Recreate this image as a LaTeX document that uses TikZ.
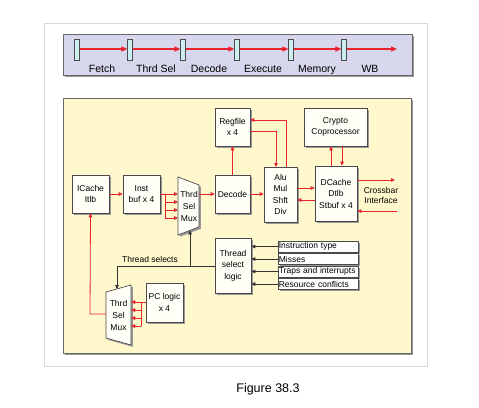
\documentclass[tikz,border=0pt]{standalone}
\usepackage{fontspec}
\setmainfont{Liberation Sans}
\usetikzlibrary{arrows.meta}
\definecolor{arred}{HTML}{E8232B}
\definecolor{pipefill}{HTML}{D6D6EC}
\definecolor{latchfill}{HTML}{CDEEF0}
\definecolor{panelfill}{HTML}{FFF8CC}
\definecolor{edge}{HTML}{4A4A4A}
\tikzset{
  shadowed/.style={preaction={fill=gray!80, transform canvas={shift={(1.8pt,-1.8pt)}}}},
  blk/.style={draw=edge, fill=white!97!yellow, line width=0.7pt, shadowed, align=center,
    inner sep=0pt, font=\fontsize{8.5}{11.5}\selectfont},
  inbox/.style={draw=edge, fill=white, line width=0.7pt, shadowed, anchor=west, align=left,
    minimum width=80pt, minimum height=11pt, inner xsep=0.5pt, inner ysep=1pt, text width=79pt,
    font=\fontsize{8.5}{10}\selectfont},
  mux/.style={draw=edge, fill=white!97!yellow, line width=0.7pt, shadowed},
  rarr/.style={draw=arred, line width=0.8pt, -{Triangle[length=4pt,width=3.6pt]}},
  rline/.style={draw=arred, line width=0.8pt},
  karr/.style={draw=black!80, line width=0.8pt, -{Triangle[length=4pt,width=3.6pt]}},
  kline/.style={draw=black!80, line width=0.8pt},
  parr/.style={draw=arred, line width=1.4pt, -{Triangle[length=6pt,width=5pt]}},
  latch/.style={draw=edge, fill=latchfill, line width=0.7pt, minimum width=4.5pt, minimum height=21pt, inner sep=0pt},
  plabel/.style={font=\fontsize{10.5}{12}\selectfont, anchor=base},
  lbl/.style={font=\fontsize{8.5}{10}\selectfont, align=center}
}
\begin{document}
\begin{tikzpicture}[x=1pt,y=-1pt]
\useasboundingbox (0,0) rectangle (479,407);
\fill[white] (0,0) rectangle (479,407);
% outer frame
\draw[gray!30, line width=0.8pt] (44,23) rectangle (427,366);
% pipeline panel
\draw[draw=black!60, fill=pipefill, line width=0.8pt, shadowed] (63,34) rectangle (412,75);
\foreach \i/\x in {1/77,2/130,3/183,4/237,5/291,6/344}{
  \node[latch] (L\i) at (\x,49.5) {};
}
\foreach \a/\b in {1/2,2/3,3/4,4/5,5/6}{
  \draw[parr] (L\a.east |- 0,49) -- (L\b.west |- 0,49);
}
\coordinate (pend) at (397,49);
\draw[parr] (L6.east |- 0,49) -- (pend);
\node[plabel] (s1) at (102,72) {Fetch};
\node[plabel] (s2) at (156,72) {Thrd Sel};
\node[plabel] (s3) at (209,72) {Decode};
\node[plabel] (s4) at (263,72) {Execute};
\node[plabel] (s5) at (317,72) {Memory};
\node[plabel] (s6) at (370,72) {WB};
% main panel
\draw[draw=black!60, fill=panelfill, line width=0.8pt, shadowed] (63,98) rectangle (411,353);
% blocks
\node[blk, minimum width=37pt, minimum height=38pt] (icache) at (90.5,194) {ICache\\Itlb};
\node[blk, minimum width=37pt, minimum height=38pt] (ibuf) at (141.5,194) {Inst\\buf x 4};
\node[blk, minimum width=35pt, minimum height=38pt] (decode) at (232.5,194) {Decode};
\node[blk, minimum width=35pt, minimum height=38pt] (regfile) at (232.5,127) {Regfile\\x 4};
\node[blk, minimum width=33pt, minimum height=55pt] (alu) at (280.5,194.5) {Alu\\Mul\\Shft\\Div};
\node[blk, minimum width=42pt, minimum height=55pt] (dcache) at (336,193.5) {DCache\\Dtlb\\Stbuf x 4};
\node[blk, minimum width=63pt, minimum height=38pt] (crypto) at (335.5,127) {Crypto\\Coprocessor};
\node[blk, minimum width=36pt, minimum height=55pt] (tsl) at (233,265.5) {Thread\\select\\logic};
\node[blk, minimum width=37pt, minimum height=39pt] (pcl) at (164.5,302.5) {PC logic\\x 4};
\node[inbox] (in1) at (278,246.5) {Instruction type};
\node[inbox] (in2) at (278,259) {Misses};
\node[inbox] (in3) at (278,271.5) {Traps and interrupts};
\node[inbox] (in4) at (278,284) {Resource conflicts};
% muxes
\draw[mux] (178,177) -- (199,185) -- (199,227) -- (178,235) -- cycle;
\node[lbl, font=\fontsize{8.5}{12}\selectfont] (mux1) at (189,206) {Thrd\\Sel\\Mux};
\draw[mux] (106,292) -- (131,285) -- (131,345) -- (106,338) -- cycle;
\node[lbl, font=\fontsize{8.5}{12}\selectfont] (mux2) at (118.5,315) {Thrd\\Sel\\Mux};
\coordinate (m1in1) at (178,194); \coordinate (m1in2) at (178,202);
\coordinate (m1in3) at (178,210); \coordinate (m1in4) at (178,218);
\coordinate (m1out) at (199,194); \coordinate (m1bot) at (190,230.4);
\coordinate (m2in1) at (131,302); \coordinate (m2in2) at (131,310);
\coordinate (m2in3) at (131,318); \coordinate (m2in4) at (131,326);
\coordinate (m2out) at (106,314); \coordinate (m2top) at (117,289);
% red connectors
\draw[rarr] (icache) -- (ibuf);
\coordinate (bus1) at (165,194);
\draw[rline] (ibuf.east |- bus1) -- (bus1) -- (165,218);
\foreach \k/\y in {1/194,2/202,3/210,4/218}{ \draw[rarr] (165,\y) -- (m1in\k); }
\draw[rarr] (m1out) -- (decode.west |- m1out);
\draw[rarr] (decode) -- (regfile);
\draw[rarr] (decode) -- (alu.west |- decode);
\draw[rarr] (regfile.east |- 0,131) -- (276,131) -- (276,167);
\draw[rarr] (286,167) -- (286,120) -- (regfile.east |- 0,120);
\draw[rarr] (alu.east |- 0,188) -- (dcache.west |- 0,188);
\draw[rarr] (dcache.west |- 0,200) -- (alu.east |- 0,200);
\draw[rarr] (dcache.north -| 331,0) -- (crypto.south -| 331,0);
\draw[rarr] (crypto.south -| 342,0) -- (dcache.north -| 342,0);
\coordinate (xout) at (395,180); \coordinate (xin) at (397,211);
\draw[rarr] (dcache.east |- xout) -- (xout);
\draw[rarr] (xin) -- (dcache.east |- xin);
\node[lbl] (xbar) at (381,195) {Crossbar\\Interface};
\coordinate (bus2) at (141,302);
\draw[rline] (pcl.west |- bus2) -- (bus2) -- (141,326);
\foreach \k/\y in {1/302,2/310,3/318,4/326}{ \draw[rarr] (141,\y) -- (m2in\k); }
\draw[rarr] (m2out) -- (90,314) -- (icache.south);
% black connectors
\foreach \k in {1,2,3,4}{ \draw[karr] (in\k.west) -- (tsl.east |- in\k.west); }
\coordinate (tsj) at (190,266);
\draw[kline] (tsl.west |- tsj) -- (tsj);
\draw[karr] (tsj) -- (117,266) -- (m2top);
\draw[karr] (tsj) -- (m1bot);
\node[lbl] (tslabel) at (150,259) {Thread selects};
% caption
\node[font=\fontsize{12.5}{14}\selectfont] (cap) at (268,389) {Figure 38.3};
\end{tikzpicture}
\end{document}
